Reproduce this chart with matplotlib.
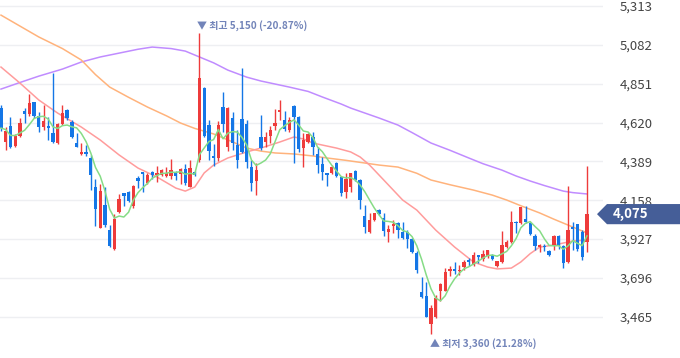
import matplotlib
matplotlib.use('Agg')
import matplotlib.pyplot as plt
from matplotlib.patches import Polygon
import matplotlib.transforms as mtransforms
import numpy as np
import pandas as pd

plt.rcParams['font.family'] = ['Noto Sans CJK KR', 'DejaVu Sans']

# daily candles (open / high / low / close)
opens = [4706, 4504, 4599, 4480, 4540, 4688, 4670, 4742, 4658, 4593,
         4599, 4558, 4498, 4611, 4694, 4623, 4498, 4433, 4445, 4409,
         4236, 3992, 4129, 3980, 3867, 4087, 4201, 4206, 4123, 4290,
         4325, 4260, 4325, 4308, 4308, 4302, 4302, 4325, 4314, 4343,
         4236, 4325, 4397, 4825, 4605, 4421, 4409, 4712, 4474, 4647,
         4486, 4641, 4611, 4355, 4272, 4534, 4504, 4540, 4599, 4682,
         4635, 4575, 4718, 4653, 4468, 4504, 4534, 4433, 4373, 4320,
         4320, 4379, 4296, 4206, 4236, 4331, 4278, 4064, 3969, 4040,
         4099, 4052, 3969, 4004, 4022, 3969, 3969, 3927, 3843, 3612,
         3588, 3421, 3463, 3618, 3618, 3737, 3749, 3737, 3760, 3802,
         3772, 3832, 3808, 3826, 3832, 3766, 3790, 3879, 3909, 4028,
         4022, 4046, 4022, 3945, 3879, 3885, 3855, 3891, 3945, 3885,
         3790, 3998, 4016, 3969, 3909]
highs = [4724, 4593, 4653, 4552, 4647, 4706, 4790, 4742, 4682, 4724,
         4653, 4915, 4617, 4724, 4700, 4635, 4558, 4498, 4486, 4427,
         4284, 4254, 4236, 4010, 4076, 4195, 4201, 4212, 4248, 4302,
         4325, 4320, 4331, 4361, 4343, 4355, 4403, 4331, 4349, 4373,
         4397, 4331, 5150, 4831, 4635, 4492, 4629, 4801, 4712, 4682,
         4575, 4944, 4635, 4397, 4379, 4664, 4563, 4599, 4700, 4754,
         4688, 4653, 4724, 4659, 4558, 4558, 4563, 4474, 4415, 4320,
         4367, 4385, 4296, 4320, 4320, 4337, 4284, 4129, 4082, 4082,
         4105, 4082, 4010, 4040, 4028, 4028, 3980, 3933, 3855, 3701,
         3671, 3534, 3594, 3665, 3754, 3766, 3790, 3772, 3802, 3814,
         3849, 3832, 3861, 3861, 3838, 3796, 3974, 3921, 4093, 4034,
         4117, 4123, 4028, 3957, 3897, 3897, 3861, 3951, 3951, 3891,
         4242, 4028, 4016, 3980, 4361]
lows = [4569, 4456, 4470, 4474, 4534, 4617, 4658, 4647, 4563, 4575,
        4516, 4498, 4492, 4605, 4635, 4528, 4474, 4427, 4421, 4218,
        4004, 3992, 3998, 3879, 3861, 4082, 4123, 4147, 4111, 4230,
        4206, 4254, 4284, 4266, 4302, 4296, 4284, 4278, 4254, 4248,
        4236, 4302, 4385, 4534, 4397, 4361, 4391, 4563, 4451, 4456,
        4349, 4439, 4349, 4212, 4189, 4456, 4474, 4498, 4575, 4635,
        4569, 4563, 4379, 4445, 4355, 4498, 4427, 4320, 4278, 4242,
        4314, 4296, 4183, 4171, 4206, 4272, 4105, 3963, 3963, 4034,
        4070, 3945, 3909, 3963, 3933, 3927, 3873, 3843, 3725, 3576,
        3463, 3360, 3457, 3558, 3618, 3707, 3719, 3713, 3743, 3766,
        3766, 3784, 3796, 3814, 3802, 3760, 3784, 3873, 3903, 3963,
        4016, 4022, 3951, 3861, 3849, 3855, 3826, 3861, 3867, 3754,
        3784, 3861, 3855, 3802, 3849]
closes = [4587, 4569, 4474, 4540, 4617, 4670, 4736, 4658, 4593, 4629,
          4587, 4504, 4611, 4676, 4647, 4534, 4474, 4445, 4433, 4308,
          4105, 4212, 4010, 3885, 4046, 4165, 4183, 4153, 4242, 4272,
          4313, 4308, 4308, 4320, 4337, 4320, 4337, 4302, 4343, 4260,
          4349, 4308, 4885, 4540, 4451, 4409, 4605, 4611, 4706, 4498,
          4397, 4445, 4385, 4260, 4337, 4468, 4534, 4575, 4617, 4694,
          4581, 4635, 4653, 4462, 4516, 4552, 4474, 4367, 4325, 4308,
          4355, 4302, 4201, 4284, 4320, 4278, 4159, 3998, 4040, 4082,
          4076, 3974, 3986, 4016, 3980, 3933, 3927, 3849, 3743, 3582,
          3463, 3516, 3576, 3659, 3731, 3749, 3737, 3743, 3790, 3790,
          3832, 3820, 3838, 3861, 3808, 3796, 3891, 3909, 4028, 4022,
          4117, 4028, 3957, 3885, 3891, 3879, 3832, 3945, 3891, 3784,
          3980, 3986, 3867, 3820, 4075]

# longer moving averages (candle index, price)
ma20_idx = [0, 4, 8, 12, 17, 21, 25, 29, 33, 37, 39, 41, 43, 45, 48, 52, 55, 59, 62,
            64, 66, 71, 74, 76, 78, 81, 85, 88, 92, 96, 100, 103, 105, 108, 110, 112,
            114, 117, 121, 124]
ma20_val = [4950, 4855, 4754, 4676, 4593, 4516, 4427, 4349, 4296, 4230, 4212, 4236, 4320,
            4367, 4409, 4445, 4468, 4504, 4534, 4522, 4498, 4468, 4445, 4415, 4367, 4278,
            4159, 4099, 3980, 3879, 3790, 3760, 3749, 3754, 3790, 3840, 3879, 3891, 3915, 3921]
ma60_idx = [0, 4, 8, 13, 17, 20, 23, 27, 31, 35, 38, 41, 45, 49, 52, 55, 58, 62, 66,
            69, 73, 77, 80, 84, 88, 91, 95, 100, 104, 107, 110, 114, 117, 120, 124]
ma60_val = [5259, 5194, 5129, 5060, 4992, 4905, 4831, 4770, 4712, 4660, 4617, 4585, 4552,
            4505, 4468, 4450, 4439, 4433, 4421, 4409, 4395, 4379, 4367, 4355, 4318, 4278,
            4250, 4218, 4188, 4159, 4125, 4082, 4045, 4010, 3963]
ma120_idx = [0, 4, 8, 13, 17, 21, 25, 29, 32, 36, 39, 42, 45, 48, 52, 55, 61, 65, 68,
             72, 74, 80, 84, 87, 91, 95, 99, 102, 106, 109, 112, 115, 119, 121, 124]
ma120_val = [4819, 4858, 4896, 4938, 4980, 5010, 5033, 5056, 5069, 5060, 5045, 5010, 4975,
             4932, 4890, 4867, 4831, 4805, 4772, 4730, 4706, 4647, 4605, 4560, 4498, 4455,
             4409, 4375, 4337, 4302, 4272, 4245, 4212, 4203, 4195]

yticks = [3465, 3696, 3927, 4158, 4389, 4620, 4851, 5082, 5313]

df = pd.DataFrame({'open': opens, 'high': highs, 'low': lows, 'close': closes})
df['ma5'] = df['close'].rolling(5, min_periods=1).mean()
x = np.arange(len(df))

up_col = '#ee3b3b'
dn_col = '#1476e6'

fig = plt.figure(figsize=(6.8, 3.58), dpi=100)
ax = fig.add_axes([0, 0, 603 / 680, 1])

ax.set_ylim(3219, 5349)
ax.set_xlim(-0.21, 127.4)

for t in yticks:
    ax.axhline(t, color='#eeeff2', lw=1, zorder=0)

ax.plot(ma120_idx, ma120_val, color='#c08cff', lw=1.1, zorder=1)
ax.plot(ma60_idx, ma60_val, color='#ffb37c', lw=1.1, zorder=1)
ax.plot(ma20_idx, ma20_val, color='#ff9c9c', lw=1.1, zorder=1)

up = df['close'] >= df['open']
cols = np.where(up, up_col, dn_col)
ax.vlines(x, df['low'], df['high'], colors=cols, lw=1, zorder=2)
body_lo = np.minimum(df['open'], df['close'])
body_h = np.maximum(np.abs(df['close'] - df['open']), 7)
ax.bar(x, body_h, bottom=body_lo, width=0.7, color=cols, zorder=3)

ax.plot(x, df['ma5'], color='#86dc86', lw=1.1, zorder=4)

ax.set_xticks([])
ax.yaxis.tick_right()
ax.set_yticks(yticks)
ax.set_yticklabels([f'{t:,}' for t in yticks], fontsize=9.5, color='#444444')
ax.tick_params(axis='y', length=0, pad=12)
for s in ax.spines.values():
    s.set_visible(False)

# highest / lowest markers
last = closes[-1]
hi_i = int(np.argmax(highs))
lo_i = int(np.argmin(lows))
hi = highs[hi_i]
lo = lows[lo_i]
lab_col = '#7284b9'
ax.annotate(f'▼ 최고 {hi:,} ({(last - hi) / hi * 100:.2f}%)', xy=(hi_i, hi),
            xytext=(-2, 2), textcoords='offset points', ha='left', va='bottom',
            fontsize=7.2, color=lab_col, fontweight='bold')
ax.annotate(f'▲ 최저 {lo:,} ({(last - lo) / lo * 100:.2f}%)', xy=(lo_i, lo),
            xytext=(-1, -3), textcoords='offset points', ha='left', va='top',
            fontsize=7.2, color=lab_col, fontweight='bold')

# current price tag
trans = mtransforms.blended_transform_factory(fig.transFigure, ax.transData)
hh = 60
tag = Polygon([(597 / 680, last), (607 / 680, last + hh), (1.0, last + hh),
               (1.0, last - hh), (607 / 680, last - hh)], closed=True,
              transform=trans, facecolor='#455e98', edgecolor='none', clip_on=False, zorder=5)
fig.patches.append(tag)
fig.text(613 / 680, last, f'{last:,}', transform=trans, fontsize=9.5, color='white',
         fontweight='bold', va='center', ha='left', zorder=6)

fig.savefig('out.png', dpi=100)
